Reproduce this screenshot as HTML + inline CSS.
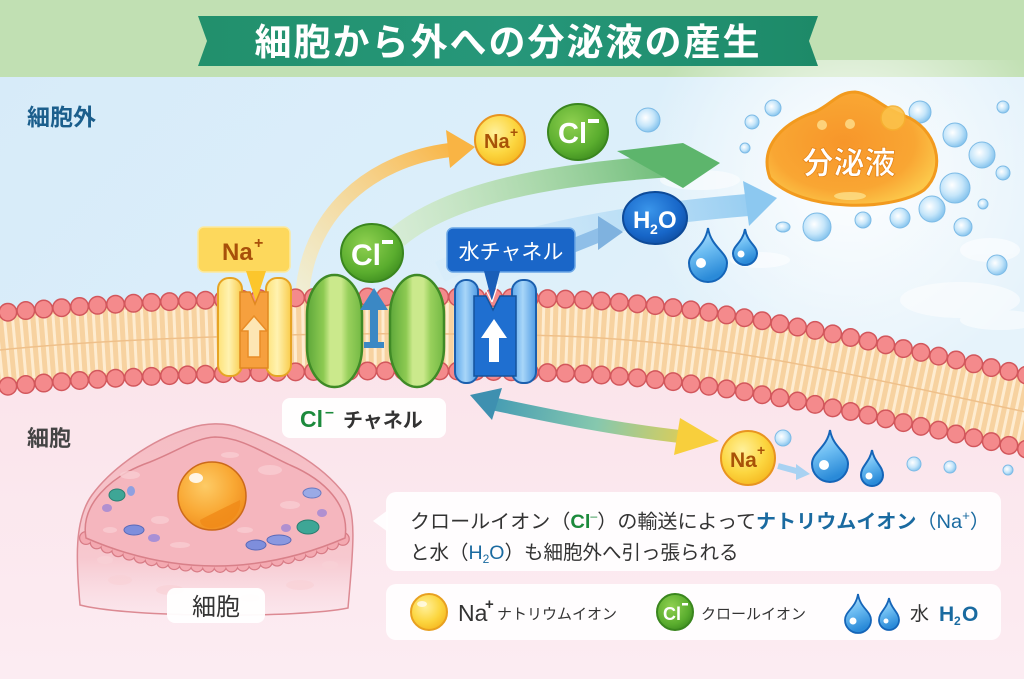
<!DOCTYPE html>
<html><head><meta charset="utf-8">
<style>
html,body{margin:0;padding:0;width:1024px;height:679px;overflow:hidden;background:#fbe6ec}
svg{display:block}
text{font-family:"Liberation Sans","Noto Sans CJK JP",sans-serif}
</style></head>
<body>
<svg width="1024" height="679" viewBox="0 0 1024 679" xmlns="http://www.w3.org/2000/svg">
<defs>
  <linearGradient id="sky" x1="0" y1="0" x2="1" y2="0.3">
    <stop offset="0" stop-color="#d7ebf9"/><stop offset="0.6" stop-color="#dcefFA"/><stop offset="1" stop-color="#e6f3fb"/>
  </linearGradient>
  <linearGradient id="pink" x1="0" y1="0" x2="0" y2="1">
    <stop offset="0" stop-color="#f9dbe2"/><stop offset="1" stop-color="#fcecf2"/>
  </linearGradient>
  <radialGradient id="glow" cx="850" cy="175" r="210" gradientUnits="userSpaceOnUse">
    <stop offset="0" stop-color="#ffffff" stop-opacity="0.95"/><stop offset="0.5" stop-color="#ffffff" stop-opacity="0.5"/><stop offset="1" stop-color="#ffffff" stop-opacity="0"/>
  </radialGradient>
  <linearGradient id="banner" x1="0" y1="0" x2="1" y2="0">
    <stop offset="0" stop-color="#22906c"/><stop offset="0.5" stop-color="#26977a"/><stop offset="1" stop-color="#1d8a68"/>
  </linearGradient>
  <linearGradient id="gOr" x1="300" y1="300" x2="460" y2="150" gradientUnits="userSpaceOnUse">
    <stop offset="0" stop-color="#fdf0c0" stop-opacity="0.6"/><stop offset="1" stop-color="#f9b444"/>
  </linearGradient>
  <linearGradient id="gGr" x1="390" y1="245" x2="700" y2="165" gradientUnits="userSpaceOnUse">
    <stop offset="0" stop-color="#d4ebb4" stop-opacity="0.5"/><stop offset="1" stop-color="#5db56c"/>
  </linearGradient>
  <linearGradient id="gBl" x1="430" y1="270" x2="780" y2="200" gradientUnits="userSpaceOnUse">
    <stop offset="0" stop-color="#cfe8f9" stop-opacity="0.2"/><stop offset="1" stop-color="#8cc8f0"/>
  </linearGradient>
  <linearGradient id="gDb" x1="480" y1="400" x2="715" y2="440" gradientUnits="userSpaceOnUse">
    <stop offset="0" stop-color="#3e97b4"/><stop offset="0.5" stop-color="#86c8ae"/><stop offset="1" stop-color="#f8cf3c"/>
  </linearGradient>
  <radialGradient id="naG" cx="0.4" cy="0.35" r="0.7">
    <stop offset="0" stop-color="#fff09a"/><stop offset="0.6" stop-color="#fcd640"/><stop offset="1" stop-color="#f5b820"/>
  </radialGradient>
  <radialGradient id="clG" cx="0.4" cy="0.35" r="0.7">
    <stop offset="0" stop-color="#8fd050"/><stop offset="0.7" stop-color="#5aad2e"/><stop offset="1" stop-color="#3f8e20"/>
  </radialGradient>
  <radialGradient id="h2oG" cx="0.4" cy="0.35" r="0.7">
    <stop offset="0" stop-color="#3a95ea"/><stop offset="0.7" stop-color="#1766c8"/><stop offset="1" stop-color="#0f4fa4"/>
  </radialGradient>
  <radialGradient id="blobG" cx="0.45" cy="0.45" r="0.6">
    <stop offset="0" stop-color="#f7962a"/><stop offset="0.7" stop-color="#f9a633"/><stop offset="1" stop-color="#fcc84a"/>
  </radialGradient>
  <radialGradient id="bub" cx="0.4" cy="0.4" r="0.65">
    <stop offset="0" stop-color="#ffffff"/><stop offset="0.55" stop-color="#c6e6fa"/><stop offset="1" stop-color="#7fc0ec"/>
  </radialGradient>
  <linearGradient id="drop" x1="0" y1="0" x2="0.3" y2="1">
    <stop offset="0" stop-color="#c4e8ff"/><stop offset="0.5" stop-color="#6dbdf2"/><stop offset="1" stop-color="#2a8ad8"/>
  </linearGradient>
  <linearGradient id="naPil" x1="0" y1="0" x2="1" y2="0">
    <stop offset="0" stop-color="#fde278"/><stop offset="0.45" stop-color="#fff2b0"/><stop offset="1" stop-color="#f9cc4c"/>
  </linearGradient>
  <linearGradient id="waPil" x1="0" y1="0" x2="1" y2="0">
    <stop offset="0" stop-color="#5ea8ec"/><stop offset="0.45" stop-color="#a8d6f8"/><stop offset="1" stop-color="#4e9ae4"/>
  </linearGradient>
  <linearGradient id="barL" x1="0" y1="0" x2="1" y2="0">
    <stop offset="0" stop-color="#5ea83a"/><stop offset="0.3" stop-color="#8dca52"/><stop offset="0.42" stop-color="#cbe98c"/><stop offset="0.62" stop-color="#cbe98c"/><stop offset="0.75" stop-color="#98d05c"/><stop offset="1" stop-color="#74b944"/>
  </linearGradient>
  <linearGradient id="cellG" x1="0" y1="0" x2="0" y2="1">
    <stop offset="0" stop-color="#f5bcc3"/><stop offset="0.7" stop-color="#f7c8cf"/><stop offset="1" stop-color="#f9dbe2" stop-opacity="0.3"/>
  </linearGradient>
  <radialGradient id="nucG" cx="0.4" cy="0.35" r="0.7">
    <stop offset="0" stop-color="#fdcb66"/><stop offset="0.6" stop-color="#f9a834"/><stop offset="1" stop-color="#ef8c1e"/>
  </radialGradient>
</defs>

<!-- backgrounds -->
<rect x="0" y="0" width="1024" height="679" fill="url(#pink)"/>
<path d="M0 76 H1024 V420 L1040 415 C 860 377, 720 341, 560 336 C 400 331, 150 334, -10 351 Z" fill="url(#sky)"/>
<rect x="0" y="0" width="1024" height="77" fill="#c1e0b3"/>
<rect x="600" y="60" width="424" height="300" fill="url(#glow)"/>
<g fill="#ffffff" opacity="0.55">
  <ellipse cx="960" cy="300" rx="60" ry="18"/><ellipse cx="700" cy="180" rx="40" ry="10"/>
  <ellipse cx="990" cy="250" rx="30" ry="12"/><ellipse cx="760" cy="260" rx="30" ry="8"/>
  <ellipse cx="1000" cy="320" rx="40" ry="10"/>
</g>

<!-- title banner -->
<polygon points="198,16 818,16 809,41 818,66 198,66 207,41" fill="url(#banner)"/>
<text x="508" y="55" text-anchor="middle" font-size="37" font-weight="bold" fill="#ffffff" letter-spacing="2">細胞から外への分泌液の産生</text>

<!-- side labels -->
<text x="27" y="125" font-size="23" font-weight="bold" fill="#1b5e8c">細胞外</text>
<text x="27" y="446" font-size="22" font-weight="bold" fill="#444">細胞</text>

<!-- arrows top -->
<path d="M302 300 C 305 215, 370 160, 450 150" stroke="url(#gOr)" stroke-width="14" fill="none"/>
<polygon points="446,130 475,147 450,168" fill="#f9b444"/>
<path d="M440 272 C 520 232, 640 214, 748 205" stroke="url(#gBl)" stroke-width="22" fill="none"/>
<polygon points="743,181 777,198 749,226" fill="#8cc8f0"/>
<path d="M388 246 C 440 192, 560 172, 690 165" stroke="url(#gGr)" stroke-width="22" fill="none"/>
<polygon points="617,151 683,143 720,163 683,188" fill="#5db56c"/>
<path d="M572 246 L602 234" stroke="#8fbfe8" stroke-width="14"/>
<polygon points="598,216 623,232 598,250" fill="#7fb2df"/>

<!-- bubbles -->
<g stroke="#7dbbe6" stroke-width="1" fill="url(#bub)">
  <circle cx="648" cy="120" r="12"/><circle cx="752" cy="122" r="7"/><circle cx="773" cy="108" r="8"/>
  <circle cx="745" cy="148" r="5"/><circle cx="817" cy="227" r="14"/><circle cx="863" cy="220" r="8"/>
  <circle cx="900" cy="218" r="10"/><circle cx="932" cy="209" r="13"/><circle cx="920" cy="112" r="11"/>
  <circle cx="955" cy="135" r="12"/><circle cx="982" cy="155" r="13"/><circle cx="1003" cy="173" r="7"/>
  <circle cx="955" cy="188" r="15"/><circle cx="983" cy="204" r="5"/><circle cx="963" cy="227" r="9"/>
  <circle cx="997" cy="265" r="10"/><circle cx="1003" cy="107" r="6"/><ellipse cx="783" cy="227" rx="7" ry="5"/>
  <circle cx="914" cy="464" r="7"/><circle cx="950" cy="467" r="6"/><circle cx="1008" cy="470" r="5"/>
  <circle cx="783" cy="438" r="8"/>
</g>

<!-- blob 分泌液 -->
<path d="M770 178 C 758 145, 785 122, 815 112 C 832 104, 838 92, 855 92 C 873 94, 882 108, 905 116 C 936 128, 948 168, 924 190 C 892 212, 800 212, 770 178 Z" fill="url(#blobG)" stroke="#f29a1e" stroke-width="3"/>
<circle cx="893" cy="118" r="12" fill="#fcc24a" stroke="#f6b030" stroke-width="1.5" opacity="0.9"/>
<circle cx="822" cy="125" r="5" fill="#fdd27a"/><circle cx="850" cy="124" r="5" fill="#fdd27a"/>
<ellipse cx="850" cy="196" rx="16" ry="4" fill="#fde08a" opacity="0.8"/>
<text x="849" y="174" text-anchor="middle" font-size="31" font-weight="bold" fill="#ffffff" stroke="#e7861a" stroke-width="0.8">分泌液</text>

<!-- ions top -->
<circle cx="500" cy="140" r="25" fill="url(#naG)" stroke="#e89420" stroke-width="2"/>
<text x="484" y="148" font-size="20" font-weight="bold" fill="#a85208">Na</text>
<text x="510" y="137" font-size="14" font-weight="bold" fill="#a85208">+</text>
<ellipse cx="578" cy="132" rx="30" ry="28" fill="url(#clG)" stroke="#3a861e" stroke-width="2"/>
<text x="558" y="143" font-size="29" font-weight="bold" fill="#ffffff">Cl</text>
<rect x="588" y="119" width="11" height="4" fill="#ffffff"/>
<ellipse cx="655" cy="218" rx="32" ry="26" fill="url(#h2oG)" stroke="#0d4a98" stroke-width="2"/>
<text x="633" y="228" font-size="24" font-weight="bold" fill="#ffffff">H</text>
<text x="650" y="234" font-size="14" font-weight="bold" fill="#ffffff">2</text>
<text x="658" y="228" font-size="24" font-weight="bold" fill="#ffffff">O</text>

<!-- drops top -->
<g stroke="#1565b8" stroke-width="2" fill="url(#drop)">
  <path d="M708 228 C 711 247, 727 252, 727 263 A 19 19 0 0 1 689 263 C 689 252, 705 247, 708 228 Z"/>
  <path d="M745 229 C 747 242, 757 246, 757 253 A 12 12 0 0 1 733 253 C 733 246, 743 242, 745 229 Z"/>
</g>
<circle cx="701" cy="263" r="5" fill="#fff"/><circle cx="741" cy="254" r="3.5" fill="#fff"/>

<!-- membrane -->
<path d="M-10 351 C 150 334, 400 331, 560 336 C 720 341, 860 377, 1040 415" stroke="#f7d2a0" stroke-width="70" fill="none"/>
<path d="M-10 351 C 150 334, 400 331, 560 336 C 720 341, 860 377, 1040 415" stroke="#fff1d8" stroke-width="62" stroke-dasharray="3 5" fill="none" opacity="0.85"/>
<path d="M-10 351 C 150 334, 400 331, 560 336 C 720 341, 860 377, 1040 415" stroke="#efc08a" stroke-width="1.5" fill="none"/>
<g fill="none" stroke-linecap="round">
  <path d="M-10 314 C 150 297, 400 294, 560 299 C 720 304, 860 340, 1040 378" stroke="#d2575c" stroke-width="19" stroke-dasharray="0 18"/>
  <path d="M-10 314 C 150 297, 400 294, 560 299 C 720 304, 860 340, 1040 378" stroke="#f48a8c" stroke-width="16" stroke-dasharray="0 18"/>
  <path d="M-10 388 C 150 371, 400 368, 560 373 C 720 378, 860 414, 1040 452" stroke="#d2575c" stroke-width="19" stroke-dasharray="0 18"/>
  <path d="M-10 388 C 150 371, 400 368, 560 373 C 720 378, 860 414, 1040 452" stroke="#f48a8c" stroke-width="16" stroke-dasharray="0 18"/>
</g>

<!-- Na pump -->
<rect x="198" y="227" width="92" height="45" rx="6" fill="#fdd85c" stroke="#fbe9a0" stroke-width="1.5"/>
<text x="222" y="260" font-size="24" font-weight="bold" fill="#a8500a">Na</text>
<text x="254" y="248" font-size="16" font-weight="bold" fill="#a8500a">+</text>
<polygon points="246,271 266,271 256,302" fill="#fcc62c"/>
<rect x="218" y="278" width="24" height="98" rx="11" fill="url(#naPil)" stroke="#e6a424" stroke-width="2"/>
<rect x="266" y="278" width="25" height="98" rx="11" fill="url(#naPil)" stroke="#e6a424" stroke-width="2"/>
<path d="M240 292 L250 292 L255 304 L260 292 L268 292 L268 368 L240 368 Z" fill="#f6a03e" stroke="#e08820" stroke-width="1.5"/>
<path d="M254 316 L267 331 L260 331 L260 357 L248 357 L248 331 L241 331 Z" fill="#fde6b4" stroke="#e88c26" stroke-width="1.5"/>

<!-- Cl channel -->
<rect x="307" y="275" width="55" height="112" rx="27" ry="40" fill="url(#barL)" stroke="#3f8a26" stroke-width="2.5"/>
<rect x="390" y="275" width="54" height="112" rx="27" ry="40" fill="url(#barL)" stroke="#3f8a26" stroke-width="2.5"/>
<polygon points="374,288 388,310 378,310 378,343 370,343 370,310 360,310" fill="#3b88c4"/>
<rect x="364" y="342" width="20" height="6" fill="#3b88c4"/>
<ellipse cx="372" cy="253" rx="31" ry="29" fill="url(#clG)" stroke="#3a861e" stroke-width="2"/>
<text x="351" y="265" font-size="30" font-weight="bold" fill="#ffffff">Cl</text>
<rect x="382" y="240" width="11" height="4" fill="#ffffff"/>

<!-- water channel -->
<rect x="447" y="228" width="128" height="44" rx="6" fill="#1a66c8" stroke="#6aa6e6" stroke-width="1.5"/>
<text x="511" y="259" text-anchor="middle" font-size="21" fill="#ffffff">水チャネル</text>
<rect x="455" y="280" width="23" height="103" rx="11" fill="url(#waPil)" stroke="#1b5fae" stroke-width="2"/>
<rect x="512" y="280" width="24" height="103" rx="11" fill="url(#waPil)" stroke="#1b5fae" stroke-width="2"/>
<path d="M474 296 L486 296 L493 310 L500 296 L516 296 L516 376 L474 376 Z" fill="#1f6fd0" stroke="#15539c" stroke-width="1.5"/>
<polygon points="484,271 500,271 492,302" fill="#1a5fb8"/>
<path d="M486 290 L492 302 M498 284 L492 302" stroke="#ffffff" stroke-width="1.2"/>
<polygon points="494,319 507,338 499,338 499,362 489,362 489,338 481,338" fill="#ffffff"/>

<!-- Cl channel label -->
<rect x="282" y="398" width="164" height="40" rx="8" fill="#ffffff" opacity="0.95"/>
<text x="300" y="427" font-size="23" font-weight="bold" fill="#1c8a3c">Cl</text>
<text x="325" y="417" font-size="16" font-weight="bold" fill="#1c8a3c">–</text>
<text x="343" y="427" font-size="20" font-weight="bold" fill="#333">チャネル</text>

<!-- double arrow lower -->
<path d="M494 404 C 560 418, 620 430, 684 437" stroke="url(#gDb)" stroke-width="13" fill="none"/>
<polygon points="470,395 502,388 492,420" fill="#3e90b0"/>
<polygon points="680,418 719,441 674,455" fill="#f8cf3c"/>

<!-- Na lower + drops -->
<circle cx="748" cy="458" r="27" fill="url(#naG)" stroke="#e89420" stroke-width="2"/>
<text x="730" y="467" font-size="21" font-weight="bold" fill="#a85208">Na</text>
<text x="757" y="455" font-size="14" font-weight="bold" fill="#a85208">+</text>
<path d="M778 466 L800 472" stroke="#a8d2f2" stroke-width="6"/>
<polygon points="796,464 810,474 796,480" fill="#a8d2f2"/>
<g stroke="#1565b8" stroke-width="2" fill="url(#drop)">
  <path d="M830 430 C 833 448, 848 452, 848 464 A 18 18 0 0 1 812 464 C 812 452, 827 448, 830 430 Z"/>
  <path d="M872 450 C 874 462, 883 466, 883 475 A 11 11 0 0 1 861 475 C 861 466, 870 462, 872 450 Z"/>
</g>
<circle cx="824" cy="465" r="5" fill="#fff"/><circle cx="869" cy="476" r="3.5" fill="#fff"/>

<!-- cell -->
<path d="M80 605 C 76 560, 74 520, 92 495 C 110 470, 150 440, 190 428 C 205 423, 225 422, 240 428 C 280 442, 320 462, 345 495 C 358 515, 352 560, 348 608 C 300 618, 130 618, 80 605 Z" fill="url(#cellG)" stroke="#dc8a93" stroke-width="1.5"/>
<g fill="#f9d2d7" opacity="0.7">
  <ellipse cx="120" cy="580" rx="12" ry="5"/><ellipse cx="170" cy="590" rx="14" ry="5"/><ellipse cx="300" cy="585" rx="14" ry="5"/>
  <ellipse cx="250" cy="598" rx="10" ry="4"/><ellipse cx="105" cy="560" rx="8" ry="4"/><ellipse cx="330" cy="565" rx="8" ry="4"/>
</g>
<path d="M86 538 Q 215 594 345 538" fill="none" stroke="#d87c86" stroke-width="14" stroke-dasharray="0 11.5" stroke-linecap="round"/>
<path d="M86 538 Q 215 594 345 538" fill="none" stroke="#f4a9b1" stroke-width="11.5" stroke-dasharray="0 11.5" stroke-linecap="round"/>
<path d="M86 538 C 80 505, 110 476, 150 462 C 180 450, 195 438, 215 437 C 240 437, 262 452, 290 465 C 325 480, 350 505, 345 538 Q 215 594 86 538 Z" fill="#f5b6be" stroke="#d98089" stroke-width="1.5"/>
<g fill="#f9cdd2" opacity="0.8">
  <ellipse cx="130" cy="475" rx="10" ry="4"/><ellipse cx="270" cy="470" rx="12" ry="5"/><ellipse cx="160" cy="520" rx="9" ry="4"/>
  <ellipse cx="290" cy="505" rx="10" ry="4"/><ellipse cx="245" cy="530" rx="8" ry="3"/><ellipse cx="110" cy="530" rx="7" ry="3"/>
  <ellipse cx="230" cy="455" rx="9" ry="3"/><ellipse cx="180" cy="545" rx="10" ry="3"/>
</g>
<ellipse cx="117" cy="495" rx="8" ry="6" fill="#3ea696" stroke="#2a7e70" stroke-width="1"/>
<ellipse cx="131" cy="491" rx="4" ry="5" fill="#8fa0e0"/>
<ellipse cx="107" cy="508" rx="5" ry="4" fill="#b090d0"/>
<ellipse cx="134" cy="530" rx="10" ry="5" fill="#7e8edc" stroke="#5a6ab8" stroke-width="1"/>
<ellipse cx="154" cy="538" rx="6" ry="4" fill="#a890d6"/>
<ellipse cx="256" cy="545" rx="10" ry="5" fill="#7e8edc" stroke="#5a6ab8" stroke-width="1"/>
<ellipse cx="279" cy="540" rx="12" ry="5" fill="#8a98e0" stroke="#5a6ab8" stroke-width="1"/>
<ellipse cx="308" cy="527" rx="11" ry="7" fill="#3ea696" stroke="#2a7e70" stroke-width="1"/>
<ellipse cx="312" cy="493" rx="9" ry="5" fill="#9aaae6" stroke="#6a7ac0" stroke-width="1"/>
<ellipse cx="322" cy="513" rx="5" ry="4" fill="#b090d0"/>
<ellipse cx="286" cy="528" rx="5" ry="4" fill="#b090d0"/>
<circle cx="212" cy="496" r="34" fill="url(#nucG)" stroke="#cc6a1a" stroke-width="1.5"/>
<path d="M200 520 C 215 512, 230 505, 240 500 C 242 515, 228 526, 212 528 C 205 528, 200 525, 200 520 Z" fill="#f08a18" opacity="0.8"/>
<ellipse cx="196" cy="478" rx="7" ry="5" fill="#ffffff" opacity="0.85"/>
<rect x="167" y="588" width="98" height="35" rx="8" fill="#ffffff" opacity="0.95"/>
<text x="216" y="615" text-anchor="middle" font-size="24" fill="#333">細胞</text>

<!-- text box 1 -->
<polygon points="373,521 388,510 388,532" fill="#ffffff" opacity="0.9"/>
<rect x="386" y="492" width="615" height="79" rx="10" fill="#ffffff" opacity="0.9"/>
<text x="410" y="528" font-size="19.5" fill="#333" textLength="580" lengthAdjust="spacingAndGlyphs">クロールイオン（<tspan fill="#1c8a3c" font-weight="bold">Cl</tspan><tspan fill="#1c8a3c" font-size="12" dy="-8">–</tspan><tspan dy="8">）の輸送によって</tspan><tspan fill="#1a6aa0" font-weight="bold">ナトリウムイオン</tspan><tspan fill="#1a6aa0">（Na</tspan><tspan fill="#1a6aa0" font-size="13" dy="-8">+</tspan><tspan fill="#1a6aa0" dy="8">）</tspan></text>
<text x="410" y="559" font-size="19.5" fill="#333">と水（<tspan fill="#1a6aa0">H</tspan><tspan fill="#1a6aa0" font-size="12" dy="4">2</tspan><tspan fill="#1a6aa0" dy="-4">O</tspan>）も細胞外へ引っ張られる</text>

<!-- legend box -->
<rect x="386" y="584" width="615" height="56" rx="10" fill="#ffffff" opacity="0.9"/>
<circle cx="429" cy="612" r="18" fill="url(#naG)" stroke="#e8a020" stroke-width="2"/>
<ellipse cx="422" cy="604" rx="5" ry="3" fill="#ffffff" opacity="0.7"/>
<text x="458" y="621" font-size="23" fill="#333">Na</text>
<text x="485" y="609" font-size="15" font-weight="bold" fill="#333">+</text>
<text x="497" y="619" font-size="15" fill="#333">ナトリウムイオン</text>
<circle cx="675" cy="612" r="18" fill="url(#clG)" stroke="#3a861e" stroke-width="2"/>
<text x="663" y="620" font-size="18" font-weight="bold" fill="#ffffff">Cl</text>
<rect x="682" y="603" width="6" height="2.5" fill="#ffffff"/>
<text x="701" y="619" font-size="15" fill="#333">クロールイオン</text>
<g stroke="#1565b8" stroke-width="1.8" fill="url(#drop)">
  <path d="M858 594 C 860 608, 871 611, 871 620 A 13 13 0 0 1 845 620 C 845 611, 856 608, 858 594 Z"/>
  <path d="M889 598 C 891 609, 899 612, 899 620 A 10 10 0 0 1 879 620 C 879 612, 887 609, 889 598 Z"/>
</g>
<circle cx="853" cy="621" r="3.5" fill="#fff"/><circle cx="886" cy="621" r="2.5" fill="#fff"/>
<text x="910" y="620" font-size="19" fill="#333">水</text>
<text x="939" y="621" font-size="21" font-weight="bold" fill="#1a6aa0">H</text>
<text x="954" y="625" font-size="12" font-weight="bold" fill="#1a6aa0">2</text>
<text x="962" y="621" font-size="21" font-weight="bold" fill="#1a6aa0">O</text>
</svg>
</body></html>
